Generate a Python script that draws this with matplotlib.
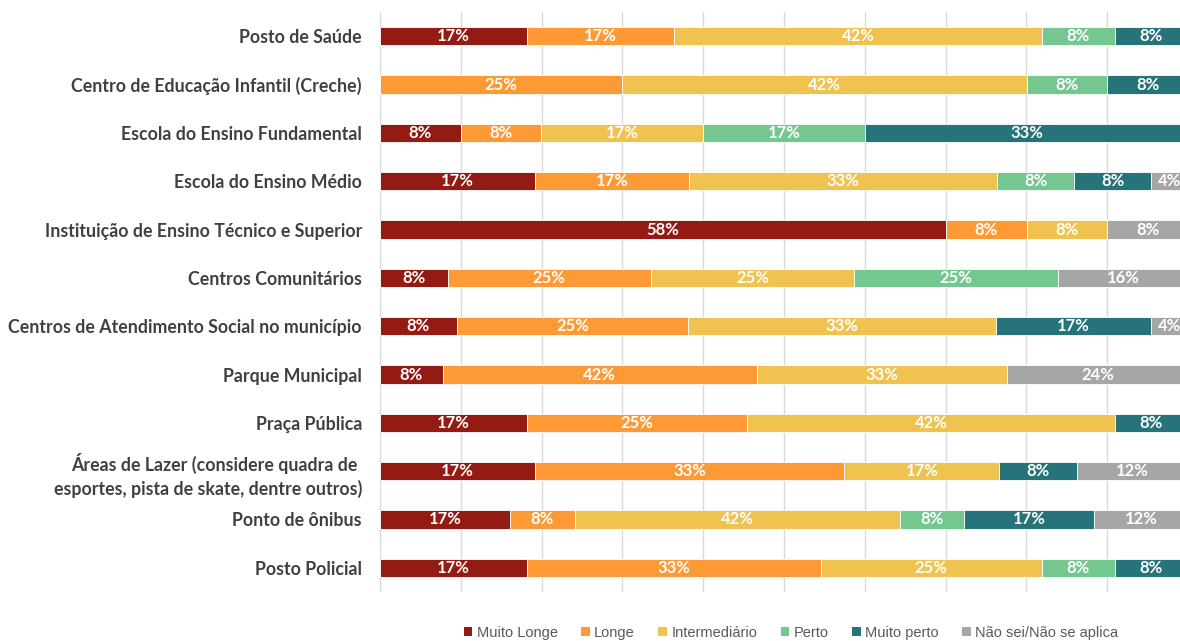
import numpy as np
import matplotlib
matplotlib.use("Agg")
import matplotlib.pyplot as plt
from matplotlib.patches import Patch
from matplotlib import font_manager

# Categories (top to bottom)
categories = [
    "Posto de Saúde",
    "Centro de Educação Infantil (Creche)",
    "Escola do Ensino Fundamental",
    "Escola do Ensino Médio",
    "Instituição de Ensino Técnico e Superior",
    "Centros Comunitários",
    "Centros de Atendimento Social no município",
    "Parque Municipal",
    "Praça Pública",
    "Áreas de Lazer (considere quadra de \nesportes, pista de skate, dentre outros)",
    "Ponto de ônibus",
    "Posto Policial",
]

series_names = ["Muito Longe", "Longe", "Intermediário", "Perto", "Muito perto", "Não sei/Não se aplica"]
series_colors = ["#941A14", "#FD9A35", "#F0C24F", "#73C78F", "#26737A", "#A6A6A6"]

# values in % per category (same order as categories)
muito_longe = [16.7, 0, 8.3, 16.7, 58.3, 8.3, 8.3, 8.3, 16.7, 16.7, 16.7, 16.7]
longe = [16.7, 25, 8.3, 16.7, 8.3, 25, 25, 41.7, 25, 33.3, 8.3, 33.3]
intermediario = [41.7, 41.7, 16.7, 33.3, 8.3, 25, 33.3, 33.3, 41.7, 16.7, 41.7, 25]
perto = [8.3, 8.3, 16.7, 8.3, 0, 25, 0, 0, 0, 0, 8.3, 8.3]
muito_perto = [8.3, 8.3, 33.3, 8.3, 0, 0, 16.7, 0, 8.3, 8.3, 16.7, 8.3]
nao_sei = [0, 0, 0, 4, 8.3, 16, 4, 24, 0, 12, 12, 0]

data = np.array([muito_longe, longe, intermediario, perto, muito_perto, nao_sei])
# 100% stacked: normalise each category by its own total
shares = data / data.sum(axis=0)

# legend font: narrow if we have it, else plain Liberation Sans
installed = {f.name for f in font_manager.fontManager.ttflist}
if "Liberation Sans Narrow" in installed:
    legend_font, legend_size = "Liberation Sans Narrow", 12.3
else:
    legend_font, legend_size = "Liberation Sans", 10.5

fig = plt.figure(figsize=(11.8, 6.41), dpi=100)
# plot area runs slightly past the right edge of the image, like the reference crop
ax = fig.add_axes([380 / 1180, 49 / 641, 808 / 1180, 580 / 641])

y = np.arange(len(categories))
left = np.zeros(len(categories))
for i, name in enumerate(series_names):
    ax.barh(y, shares[i], left=left, height=0.38, color=series_colors[i],
            edgecolor="white", linewidth=0.6, label=name, zorder=3)
    for j in range(len(categories)):
        if data[i, j] > 0:
            ax.text(left[j] + shares[i, j] / 2, y[j], f"{data[i, j]:.0f}%",
                    ha="center", va="center", color="white", fontsize=12,
                    fontweight="bold", family=["Lato", "DejaVu Sans"], zorder=4)
    left += shares[i]

ax.set_xlim(0, 1)
ax.set_ylim(len(categories) - 0.5, -0.5)
ax.set_xticks(np.arange(0, 1.01, 0.1))
ax.xaxis.grid(True, color="#D9D9D9", linewidth=1, zorder=0)
ax.tick_params(axis="x", length=0, labelbottom=False)
ax.tick_params(axis="y", length=0, pad=13)
ax.set_yticks(y)
ax.set_yticklabels(categories, fontsize=12.8, fontweight="bold", color="#404040",
                   family=["Lato", "DejaVu Sans"], linespacing=1.35)
for s in ax.spines.values():
    s.set_visible(False)

handles = [Patch(facecolor=c, edgecolor="none") for c in series_colors]
fig.legend(handles, series_names, loc="center", bbox_to_anchor=(791 / 1180, 1 - 633 / 641),
           ncol=6, frameon=False, handlelength=0.6, handleheight=0.6, handletextpad=0.3,
           columnspacing=1.6, prop={"family": legend_font, "size": legend_size},
           labelcolor="#595959")

fig.savefig("out.png", dpi=100)
